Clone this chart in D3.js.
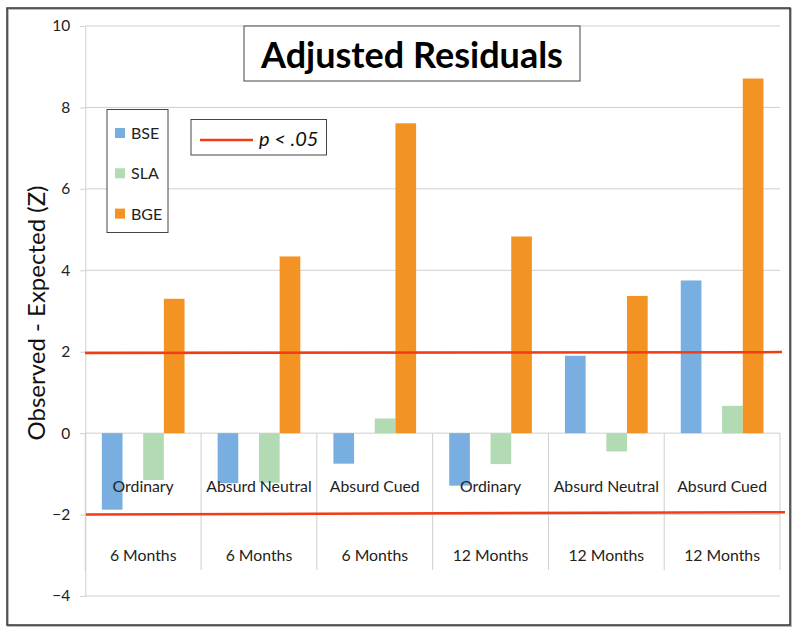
<!DOCTYPE html>
<html><head><meta charset="utf-8">
<script src="https://cdn.jsdelivr.net/npm/d3@7"></script>
<style>body{margin:0;background:#fff;} svg{display:block;font-family:Lato,"Open Sans",sans-serif;}</style>
</head><body>
<svg id="c" width="800" height="633"></svg>
<script>
const categories = ["Ordinary","Absurd Neutral","Absurd Cued","Ordinary","Absurd Neutral","Absurd Cued"];
const periods = ["6 Months","6 Months","6 Months","12 Months","12 Months","12 Months"];
const seriesNames = ["BSE","SLA","BGE"];
const BSE = [-1.88,-1.23,-0.75,-1.29,1.90,3.75];
const SLA = [-1.15,-1.22,0.36,-0.76,-0.45,0.67];
const BGE = [3.30,4.34,7.61,4.83,3.37,8.71];
const yTicks = [-4,-2,0,2,4,6,8,10];
const sigLines = [[-2.0,-1.94],[1.97,1.99]];
const colors = {BSE:"#79aee0", SLA:"#b3dbb3", BGE:"#f39324"};

const svg = d3.select("#c");
const L = 85.3, R = 780, T = 26, B = 596;
const y = d3.scaleLinear().domain([-4,10]).range([B,T]);
const idx = d3.range(categories.length);
const x = d3.scaleBand().domain(idx).range([L,R]).padding(0);
const xs = d3.scaleBand().domain(["BSE","gap","SLA","BGE"]).range([0,x.bandwidth()]).paddingInner(0).paddingOuter(0.8);

// outer frame
svg.append("rect").attr("x",8).attr("y",9).attr("width",783).attr("height",617).attr("fill","none").attr("stroke","#bbb").attr("stroke-width",2);
svg.append("rect").attr("x",7).attr("y",8).attr("width",783).attr("height",617).attr("fill","none").attr("stroke","#333").attr("stroke-width",1.5);

// gridlines
svg.append("g").selectAll("line").data(yTicks).join("line")
  .attr("x1",L).attr("x2",R).attr("y1",d=>y(d)).attr("y2",d=>y(d))
  .attr("stroke","#cfcfcf").attr("stroke-width",1);

// y axis
const ya = d3.axisLeft(y).tickValues(yTicks).tickSize(5).tickPadding(10).tickFormat(d3.format("d"));
const yg = svg.append("g").attr("transform",`translate(${L},0)`).call(ya);
yg.select(".domain").attr("stroke","#cfcfcf");
yg.selectAll(".tick line").attr("stroke","#cfcfcf");
yg.selectAll("text").attr("font-size",15.5).attr("fill","#222").attr("font-family","Lato,'Open Sans',sans-serif");

// category separators
const seps = idx.map(i=>x(i)).concat([R]);
svg.append("g").selectAll("line").data(seps).join("line")
  .attr("x1",d=>d).attr("x2",d=>d).attr("y1",y(0)).attr("y2",570)
  .attr("stroke","#cfcfcf").attr("stroke-width",1);

// bars
const data = [];
idx.forEach(i=>{
  data.push({i,s:"BSE",v:BSE[i]});
  data.push({i,s:"SLA",v:SLA[i]});
  data.push({i,s:"BGE",v:BGE[i]});
});
svg.append("g").selectAll("rect").data(data).join("rect")
  .attr("x",d=>x(d.i)+xs(d.s))
  .attr("width",xs.bandwidth())
  .attr("y",d=>y(Math.max(0,d.v)))
  .attr("height",d=>Math.abs(y(d.v)-y(0)))
  .attr("fill",d=>colors[d.s]);

// category labels
svg.append("g").selectAll("text").data(idx).join("text")
  .attr("x",i=>x(i)+x.bandwidth()/2).attr("y",492)
  .attr("text-anchor","middle").attr("font-size",15.8).attr("fill","#222")
  .text(i=>categories[i]);
svg.append("g").selectAll("text").data(idx).join("text")
  .attr("x",i=>x(i)+x.bandwidth()/2).attr("y",561)
  .attr("text-anchor","middle").attr("font-size",15.8).attr("fill","#222")
  .text(i=>periods[i]);

// significance lines
const sx = [[86,785],[85,782]];
svg.append("g").selectAll("line").data(sigLines).join("line")
  .attr("x1",(d,k)=>sx[k][0]).attr("x2",(d,k)=>sx[k][1])
  .attr("y1",d=>y(d[0])).attr("y2",d=>y(d[1]))
  .attr("stroke","#f23c14").attr("stroke-width",2.5);

// y axis label
svg.append("text").attr("transform","translate(45,313) rotate(-90)")
  .attr("text-anchor","middle").attr("font-size",24).attr("fill","#111")
  .text("Observed - Expected (Z)");

// title box
svg.append("rect").attr("x",244).attr("y",26).attr("width",336).attr("height",55)
  .attr("fill","#fff").attr("stroke","#444").attr("stroke-width",1);
svg.append("text").attr("x",412).attr("y",68).attr("text-anchor","middle")
  .attr("font-size",36).attr("font-weight","bold").attr("fill","#000")
  .text("Adjusted Residuals");

// legend
svg.append("rect").attr("x",107).attr("y",109.5).attr("width",61).attr("height",123)
  .attr("fill","#fff").attr("stroke","#444").attr("stroke-width",1);
const lg = svg.append("g").selectAll("g").data(seriesNames).join("g")
  .attr("transform",(d,k)=>`translate(115,${133+k*40.3})`);
lg.append("rect").attr("x",0).attr("y",-5).attr("width",10).attr("height",10).attr("fill",d=>colors[d]);
lg.append("text").attr("x",16).attr("y",6).attr("font-size",16).attr("fill","#222").text(d=>d);

// p legend
svg.append("rect").attr("x",191).attr("y",119.5).attr("width",135.5).attr("height",35.5)
  .attr("fill","#fff").attr("stroke","#444").attr("stroke-width",1);
svg.append("line").attr("x1",200).attr("x2",253).attr("y1",140).attr("y2",140)
  .attr("stroke","#f23c14").attr("stroke-width",2.5);
svg.append("text").attr("x",259).attr("y",146).attr("font-size",20).attr("font-style","italic").attr("fill","#111")
  .text("p < .05");
</script>
</body></html>
